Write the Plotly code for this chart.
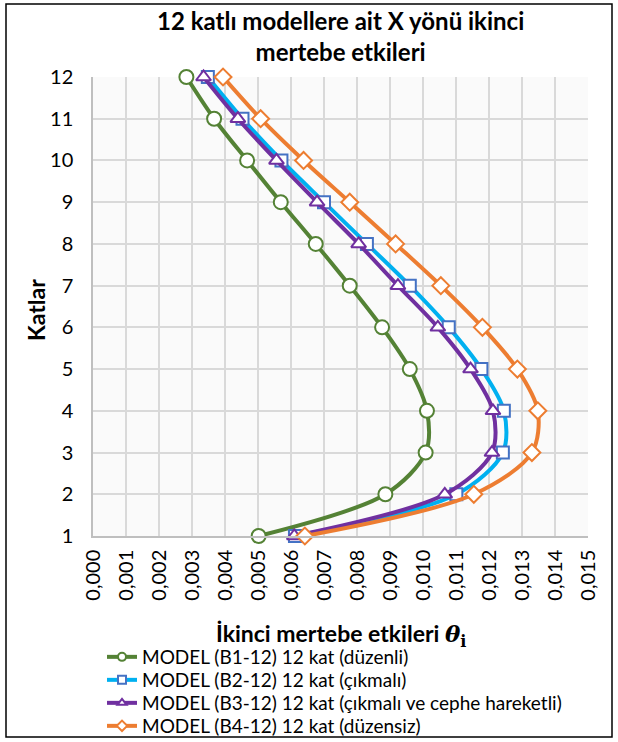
import plotly.graph_objects as go

# -----------------------------
# Data
# -----------------------------
katlar = [1, 2, 3, 4, 5, 6, 7, 8, 9, 10, 11, 12]

b1_duzenli = [0.00502, 0.00886, 0.01008, 0.01012, 0.00960, 0.00876,
              0.00778, 0.00675, 0.00569, 0.00467, 0.00367, 0.00283]
b2_cikmali = [0.00612, 0.01101, 0.01242, 0.01245, 0.01177, 0.01078,
              0.00960, 0.00830, 0.00700, 0.00571, 0.00453, 0.00348]
b3_cephe = [0.00610, 0.01066, 0.01209, 0.01212, 0.01144, 0.01045,
            0.00924, 0.00805, 0.00679, 0.00556, 0.00439, 0.00335]
b4_duzensiz = [0.00642, 0.01154, 0.01330, 0.01348, 0.01286, 0.01180,
               0.01054, 0.00917, 0.00778, 0.00638, 0.00508, 0.00394]

series = [
    ("MODEL (B1-12) 12 kat (düzenli)", b1_duzenli, "#548235", "#548235", "circle", 14),
    ("MODEL (B2-12) 12 kat (çıkmalı)", b2_cikmali, "#00b0f0", "#4472c4", "square", 12),
    ("MODEL (B3-12) 12 kat (çıkmalı ve cephe hareketli)", b3_cephe, "#7030a0", "#7030a0", "triangle-up", 13),
    ("MODEL (B4-12) 12 kat (düzensiz)", b4_duzensiz, "#ed7d31", "#ed7d31", "diamond", 13),
]

x_ticks = [i / 1000 for i in range(16)]

# -----------------------------
# Geometry helpers (pixels -> paper)
# -----------------------------
L, R, T, B = 93, 30, 77, 206
W, H = 618, 742
pw, ph = W - L - R, H - T - B

def px_x(p):
    return (p - L) / pw

def px_y(p):
    return (H - B - p) / ph

# -----------------------------
# Plot
# -----------------------------
fig = go.Figure()

for name, vals, lcol, mcol, sym, size in series:
    fig.add_trace(go.Scatter(
        x=vals, y=katlar, name=name, mode="lines+markers", showlegend=False,
        line=dict(color=lcol, width=4, shape="spline", smoothing=0.9),
        marker=dict(symbol=sym, size=size, color="white",
                    line=dict(color=mcol, width=2)),
        cliponaxis=False,
    ))

# one legend per entry so the rows sit as tight as in the reference
legend_names = ["legend", "legend2", "legend3", "legend4"]
legend_layout = {}
for i, (name, vals, lcol, mcol, sym, size) in enumerate(series):
    fig.add_trace(go.Scatter(
        x=[None], y=[None], name=name, mode="lines+markers",
        legend=legend_names[i],
        line=dict(color=lcol, width=4),
        marker=dict(symbol=sym, size=8, color="white",
                    line=dict(color=mcol, width=2)),
    ))
    legend_layout[legend_names[i]] = dict(
        x=px_x(102), y=px_y(638 + 23 * i), xanchor="left", yanchor="top",
        font=dict(size=19), bgcolor="rgba(0,0,0,0)",
    )

fig.update_layout(
    width=W, height=H,
    margin=dict(l=L, r=R, t=T, b=B, autoexpand=False),
    paper_bgcolor="white",
    plot_bgcolor="#fafafa",
    separators=",.",
    font=dict(family="Lato, Open Sans, sans-serif", color="black", size=18),
    xaxis=dict(
        range=[0, 0.015], tickvals=x_ticks, tickformat=".3f", tickangle=-90,
        showgrid=True, gridcolor="#d9d9d9", gridwidth=1.5,
        showline=True, linecolor="#bfbfbf", linewidth=1.5,
        zeroline=False, ticks="", tickfont=dict(size=20), automargin=False,
        ticklabelstandoff=4,
    ),
    yaxis=dict(
        range=[1, 12], dtick=1, showgrid=True, gridcolor="#d9d9d9", gridwidth=1.5,
        showline=True, linecolor="#bfbfbf", linewidth=1.5,
        zeroline=False, ticks="", tickfont=dict(size=20), automargin=False,
        ticklabelstandoff=14,
    ),
    annotations=[
        dict(text="<b>12 katlı modellere ait X yönü ikinci<br>mertebe etkileri</b>",
             xref="paper", yref="paper", x=0.5, y=px_y(4), xanchor="center", yanchor="top",
             showarrow=False, font=dict(size=24)),
        dict(text="<b>İkinci mertebe etkileri "
                   "<span style='font-family:DejaVu Serif, Liberation Serif, serif'><i>θ</i><sub>i</sub></span></b>",
             xref="paper", yref="paper", x=0.5, y=px_y(635), xanchor="center", yanchor="middle",
             showarrow=False, font=dict(size=23)),
        dict(text="<b>Katlar</b>", textangle=-90,
             xref="paper", yref="paper", x=px_x(36), y=px_y(310), xanchor="center", yanchor="middle",
             showarrow=False, font=dict(size=23)),
    ],
    shapes=[dict(
        type="rect", xref="paper", yref="paper",
        x0=px_x(6), x1=px_x(612), y0=px_y(737), y1=px_y(4),
        line=dict(color="black", width=1.5), fillcolor="rgba(0,0,0,0)",
        layer="below",
    )],
    **legend_layout,
)

fig.write_html("out.html", config={"displayModeBar": False},
               post_script="document.body.style.margin='0';")
